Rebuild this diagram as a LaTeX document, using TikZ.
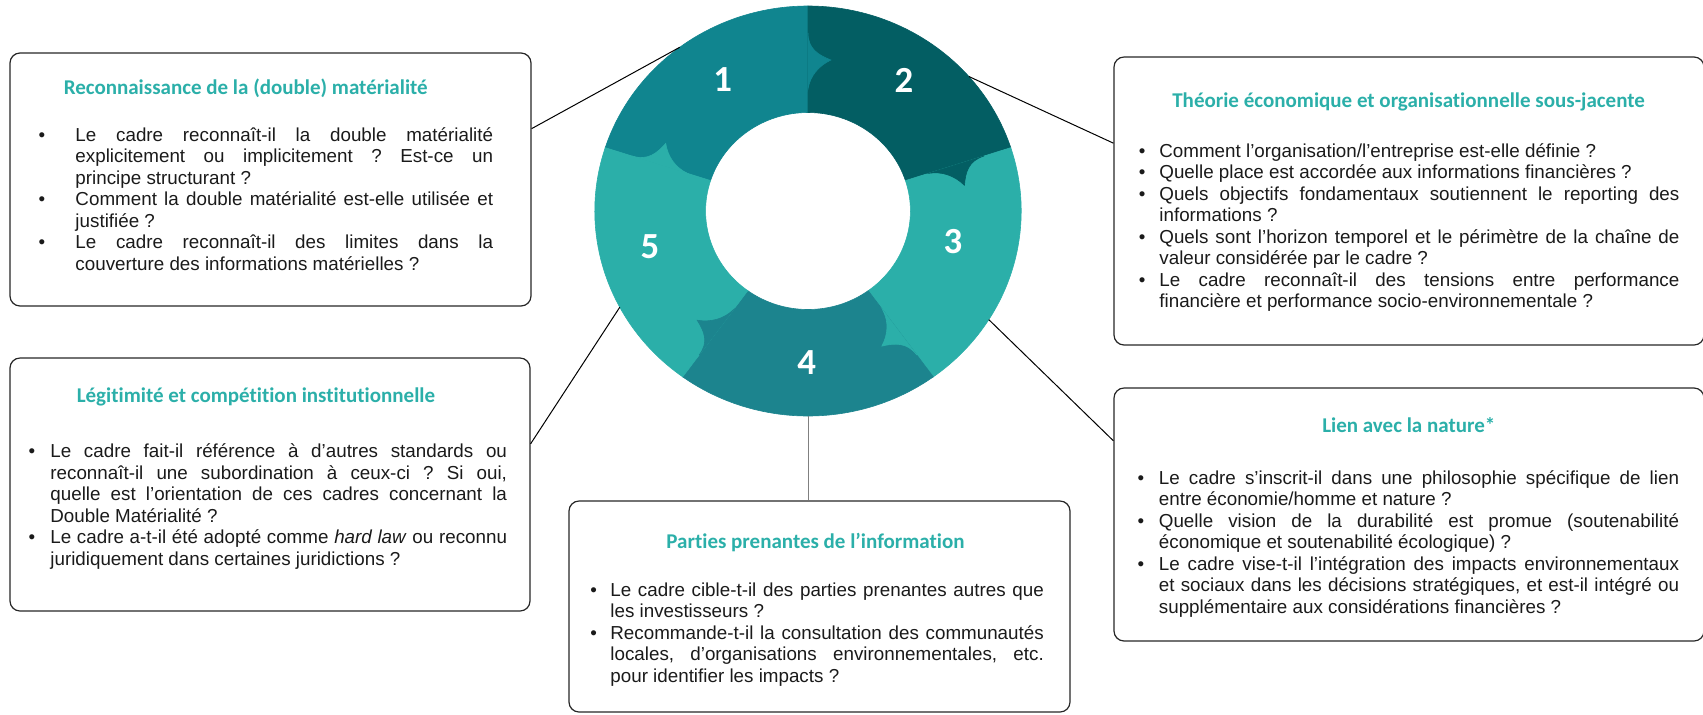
\documentclass[tikz,border=0pt]{standalone}
\usepackage{fontspec}
\setmainfont{Liberation Sans}
\newfontfamily\titrefont[Ligatures=NoCommon]{Carlito}
\usepackage{tikz}
\usetikzlibrary{calc}
\definecolor{tealA}{HTML}{10858F}
\definecolor{tealB}{HTML}{035E63}
\definecolor{tealC}{HTML}{2BAFA9}
\definecolor{tealD}{HTML}{1C848E}
\definecolor{encre}{HTML}{1A1A1A}
\hyphenpenalty=10000
\exhyphenpenalty=10000
\tolerance=10000
\frenchspacing
\newcommand{\puce}[1][7pt]{\par\noindent\llap{\textbullet\hspace{#1}}\rule{0pt}{8pt}}

\begin{document}
\begin{tikzpicture}[x=0.5pt,y=-0.5pt,
    boite/.style={draw=black!85,line width=0.6pt,rounded corners=5pt,inner sep=0pt},
    titre/.style={anchor=base,inner sep=0pt,text=tealC,font=\titrefont\bfseries\fontsize{10.5}{12}\selectfont},
    corps/.style={anchor=north west,inner sep=0pt,align=justify,text=encre,font=\fontsize{9.4}{10.75}\selectfont\frenchspacing},
    trait/.style={line width=0.5pt},
    num/.style={inner sep=0pt,text=white,font=\titrefont\bfseries\fontsize{18.4}{20}\selectfont}]
        \useasboundingbox (0,0) rectangle (1703,714);
        \coordinate (O) at (808,211);

        \begin{scope}[shift={(O)},xscale=1.04,yscale=-1]
            \foreach \a/\b/\c in {90/162/tealA, 18/90/tealB, -54/18/tealC, -126/-54/tealD, -198/-126/tealC}
                \filldraw[fill=\c,draw=\c,line width=0.3pt] (\a:205) arc[start angle=\a,end angle=\b,radius=205] -- (\b:98.5) arc[start angle=\b,end angle=\a,radius=98.5] -- cycle;
            \foreach \r/\c in {0/tealA, 72/tealB, 144/tealC, 216/tealD, 288/tealC}
                \filldraw[fill=\c,draw=\c,line width=0.3pt,rotate=\r] (0,178) .. controls (0,162) and (10,156) .. (22,151) .. controls (10,145) and (2,135) .. (0,122) -- cycle;
            \coordinate (R1) at (127:205);
            \coordinate (R2) at (41:205);
            \coordinate (R3) at (-32:205);
            \coordinate (R4) at (-90:205);
            \coordinate (R5) at (208:205);
        \end{scope}

        \node[num] (n1) at (722.7,80) {1};
        \node[num] (n2) at (904,80) {2};
        \node[num] (n3) at (953,241.7) {3};
        \node[num] (n4) at (806.7,362.5) {4};
        \node[num] (n5) at (650,246.7) {5};

        \node[boite,minimum width=260.5pt,minimum height=126.5pt] (recon) at (270.5,179.5) {};
        \node[boite,minimum width=295pt,minimum height=144pt] (theorie) at (1409,201) {};
        \node[boite,minimum width=295pt,minimum height=126.5pt] (lien) at (1409,514.5) {};
        \node[boite,minimum width=250.5pt,minimum height=105.5pt] (parties) at (819.5,606.5) {};
        \node[boite,minimum width=260pt,minimum height=126.5pt] (legit) at (270,484.5) {};

        \draw[trait] (R1) -- ($(recon.north east)!0.3!(recon.south east)$);
        \draw[trait] (R2) -- ($(theorie.north west)!0.3!(theorie.south west)$);
        \draw[trait] (R3) -- ($(lien.north west)!0.21!(lien.south west)$);
        \draw[trait] (R5) -- ($(legit.north east)!0.34!(legit.south east)$);
        \draw[trait,draw=gray] (R4) -- (R4 |- parties.north);

        \node[titre] (t1) at (245.7,94) {Reconnaissance de la (double) matérialité};
        \node[corps,text width=208.8pt] (c1) at (75.1,119.5) {%
            \puce[15.2pt]Le cadre reconnaît-il la double matérialité \linebreak explicitement ou implicitement~? Est-ce un \linebreak principe structurant~?
            \puce[15.2pt]Comment la double matérialité est-elle utilisée et \linebreak justifiée~?
            \puce[15.2pt]Le cadre reconnaît-il des limites dans la \linebreak couverture des informations matérielles~?};

        \node[titre] (t2) at (1408.6,107.7) {Théorie économique et organisationnelle sous-jacente};
        \node[corps,text width=260pt] (c2) at (1159,135.5) {%
            \puce Comment l’organisation/l’entreprise est-elle définie~?
            \puce Quelle place est accordée aux informations financières~?
            \puce Quels objectifs fondamentaux soutiennent le reporting des \linebreak informations~?
            \puce Quels sont l’horizon temporel et le périmètre de la chaîne de \linebreak valeur considérée par le cadre~?
            \puce Le cadre reconnaît-il des tensions entre performance \linebreak financière et performance socio-environnementale~?};

        \node[titre] (t3) at (1408.8,432.7) {Lien avec la nature*};
        \node[corps,text width=260.1pt] (c3) at (1158.5,462.2) {%
            \puce[7.4pt]Le cadre s’inscrit-il dans une philosophie spécifique de lien \linebreak entre économie/homme et nature~?
            \puce[7.4pt]Quelle vision de la durabilité est promue (soutenabilité \linebreak économique et soutenabilité écologique)~?
            \puce[7.4pt]Le cadre vise-t-il l’intégration des impacts environnementaux \linebreak et sociaux dans les décisions stratégiques, et est-il intégré ou \linebreak supplémentaire aux considérations financières~?};

        \node[titre] (t4) at (815.5,548.3) {Parties prenantes de l’information};
        \node[corps,text width=216.7pt] (c4) at (610,574.5) {%
            \puce[6.7pt]Le cadre cible-t-il des parties prenantes autres que \linebreak les investisseurs~?
            \puce[6.7pt]Recommande-t-il la consultation des communautés \linebreak locales, d’organisations environnementales, etc. \linebreak pour identifier les impacts~?};

        \node[titre] (t5) at (255.9,402.7) {Légitimité et compétition institutionnelle};
        \node[corps,text width=228.3pt] (c5) at (50,436) {%
            \puce[7.6pt]Le cadre fait-il référence à d’autres standards ou \linebreak reconnaît-il une subordination à ceux-ci~? Si oui, \linebreak quelle est l’orientation de ces cadres concernant la \linebreak Double Matérialité~?
            \puce[7.6pt]Le cadre a-t-il été adopté comme \textit{hard law} ou reconnu \linebreak juridiquement dans certaines juridictions~?};
    \end{tikzpicture}
\end{document}
